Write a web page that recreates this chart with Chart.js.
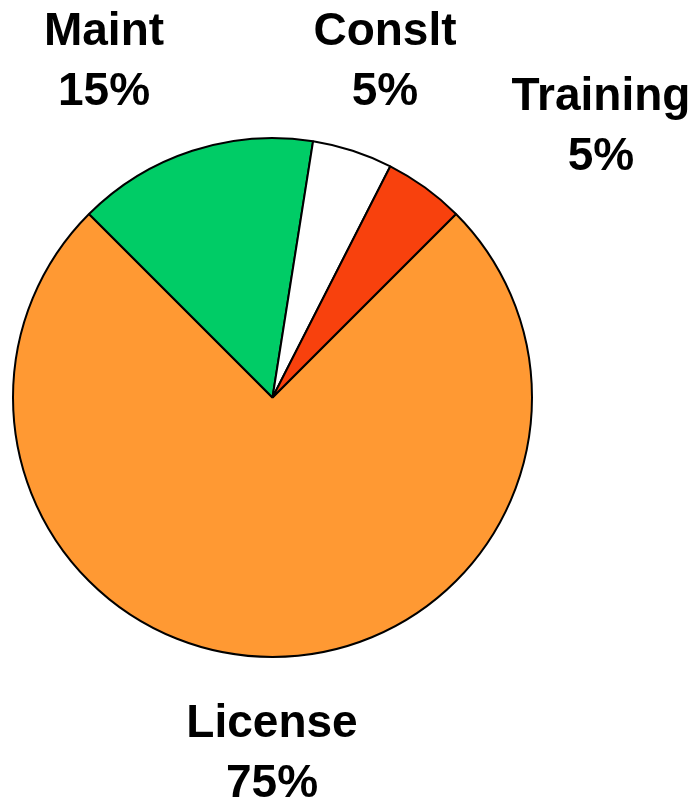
<!DOCTYPE html>
<html>
<head>
<meta charset="utf-8">
<script src="https://cdn.jsdelivr.net/npm/chart.js@4"></script>
<style>
  html, body { margin: 0; padding: 0; background: #fff; }
  #wrap { width: 699px; height: 803px; }
</style>
</head>
<body>
<div id="wrap"><canvas id="myChart"></canvas></div>
<script>
// revenue split pie
var categories = ["License", "Maint", "Conslt", "Training"];
var shares = [75, 15, 5, 5];
var sliceColors = ["#FF9933", "#00CC66", "#FFFFFF", "#F8410D"];

// where each label sits (center x, first baseline y)
var labelSpots = [
  [272, 737],
  [104, 45],
  [385, 45],
  [601, 110]
];

var outsideLabels = {
  id: "outsideLabels",
  afterDraw: function(chart){
    var ctx = chart.ctx;
    ctx.save();
    ctx.fillStyle = "#000";
    ctx.font = "bold 46px 'Liberation Sans', Arial, sans-serif";
    ctx.textAlign = "center";
    ctx.textBaseline = "alphabetic";
    for(var i = 0; i < categories.length; i++){
      var p = labelSpots[i];
      ctx.fillText(categories[i], p[0], p[1]);
      ctx.fillText(shares[i] + "%", p[0], p[1] + 60);
    }
    ctx.restore();
  }
};

var ctx = document.getElementById("myChart");

var myChart = new Chart(ctx, {
  type: "pie",
  data: {
    labels: categories,
    datasets: [
      {
        data: shares,
        backgroundColor: sliceColors,
        borderColor: "#000",
        borderWidth: 2
      }
    ]
  },
  options: {
    responsive: true,
    maintainAspectRatio: false,
    animation: false,
    rotation: 45,
    layout: {
      padding: { left: 12, right: 166, top: 137, bottom: 145 }
    },
    plugins: {
      legend: { display: false },
      tooltip: { enabled: false }
    }
  },
  plugins: [outsideLabels]
});
</script>
</body>
</html>
